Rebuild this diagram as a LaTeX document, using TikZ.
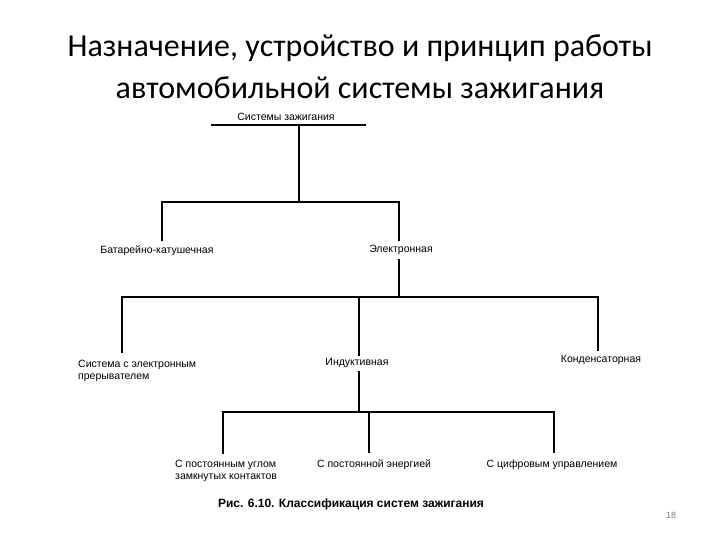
\documentclass[tikz,border=0pt]{standalone}
\usepackage{fontspec}
\setmainfont{Liberation Sans}
\newfontfamily\titlefont{Carlito}

\tikzset{
  lbl/.style={font=\fontsize{10.5}{12}\selectfont, inner sep=0pt, anchor=base},
  tree/.style={line width=1.2pt, line cap=rect}
}

\begin{document}
\begin{tikzpicture}[x=1pt, y=-1pt]
\useasboundingbox (0,0) rectangle (720,540);

\node [font=\titlefont\fontsize{32}{42}\selectfont, align=center, anchor=base] (title) at (360,99)
  {Назначение, устройство и принцип работы\\автомобильной системы зажигания};

\node [lbl] (root) at (286,121) {Системы зажигания};
\node [lbl] (bat) at (157,254) {Батарейно-катушечная};
\node [lbl] (elec) at (401,252) {Электронная};
\node [lbl, anchor=base west, align=left] (esys) at (78,379) {Система с электронным\\прерывателем};
\node [lbl] (ind) at (357,365) {Индуктивная};
\node [lbl] (cond) at (601,362) {Конденсаторная};
\node [lbl, anchor=base west, align=left] (angle) at (175,479) {С постоянным углом\\замкнутых контактов};
\node [lbl] (energy) at (374,467) {С постоянной энергией};
\node [lbl] (digit) at (552,467) {С цифровым управлением};

\node [font=\bfseries\fontsize{12}{14}\selectfont, anchor=base] (caption) at (351,507)
  {Рис. 6.10. Классификация систем зажигания};
\node [font=\fontsize{9}{11}\selectfont, text=gray, anchor=base] (page) at (671,518) {18};

\coordinate (root-l) at (212,125);
\coordinate (root-r) at (365,125);
\coordinate (j1) at (299,125);
\coordinate (j2) at (399,260);
\coordinate (j3) at (359,372);

\draw [tree] (root-l) -- (root-r);
\draw [tree] (j1) -- (299,202);
\draw [tree] (162,202) -- (399,202);
\foreach \x in {162,399} {
\draw [tree] (\x,202) -- (\x,240);
}

\draw [tree] (j2) -- (399,297);
\draw [tree] (122,297) -- (598,297);
\draw [tree] (122,297) -- (122,352);
\draw [tree] (359,297) -- (359,355);
\draw [tree] (598,297) -- (598,350);

\draw [tree] (j3) -- (359,412);
\draw [tree] (223,412) -- (554,412);
\foreach \x/\y in {223/453,369/452,554/452} {
\draw [tree] (\x,412) -- (\x,\y);
}

\end{tikzpicture}
\end{document}
